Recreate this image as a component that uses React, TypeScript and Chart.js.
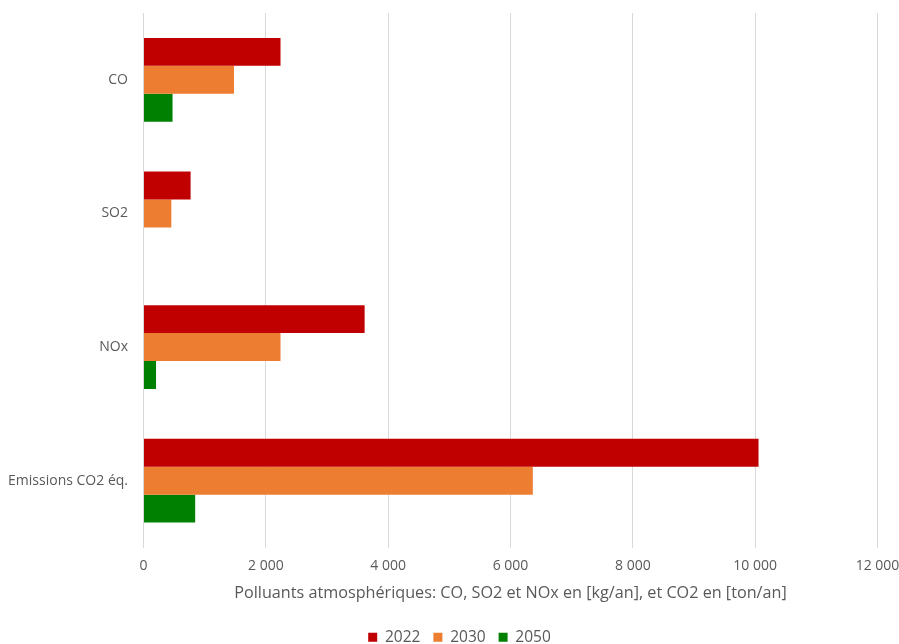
import React, { useEffect, useRef } from "react";
import { Chart, registerables } from "chart.js";

Chart.register(...registerables);

const categories = ["CO", "SO2", "NOx", "Emissions CO2 éq."];
const seriesNames = ["2022", "2030", "2050"];
const values2022 = [2240, 770, 3615, 10055];
const values2030 = [1480, 455, 2240, 6365];
const values2050 = [475, 0, 205, 845];
const xTickLabels = ["0", "2 000", "4 000", "6 000", "8 000", "10 000", "12 000"];
const axisTitle = "Polluants atmosphériques: CO, SO2 et NOx en [kg/an], et CO2 en [ton/an]";

const colors = ["#C00000", "#ED7D31", "#008000"];
const FONT = "'Open Sans', 'DejaVu Sans', sans-serif";
const TEXT = "#595959";

const legendShift = {
  id: "legendShift",
  afterLayout(chart: any) {
    const lg = chart.legend;
    if (lg) {
      lg.left = 20;
      lg.right = 899;
    }
  },
};

export default function App() {
  const ref = useRef<HTMLCanvasElement | null>(null);

  useEffect(() => {
    if (!ref.current) return;
    const series = [values2022, values2030, values2050];
    const chart = new Chart(ref.current, {
      type: "bar",
      data: {
        labels: categories,
        datasets: series.map((vals, i) => ({
          label: seriesNames[i],
          data: vals,
          backgroundColor: colors[i],
          borderWidth: 0,
          barPercentage: 1,
          categoryPercentage: 0.627,
        })),
      },
      plugins: [legendShift],
      options: {
        indexAxis: "y",
        animation: false,
        responsive: false,
        maintainAspectRatio: false,
        layout: { padding: { top: 13, right: 21.5, bottom: -11, left: 0 } },
        plugins: {
          tooltip: { enabled: false },
          legend: {
            position: "bottom",
            labels: {
              boxWidth: 9,
              boxHeight: 9,
              color: TEXT,
              font: { family: FONT, size: 15.5 },
              padding: 13,
            },
          },
        },
        scales: {
          x: {
            min: 0,
            max: 12000,
            ticks: {
              stepSize: 2000,
              color: TEXT,
              font: { family: FONT, size: 14 },
              padding: 10,
              maxRotation: 0,
              callback: (_v: any, i: number) => xTickLabels[i],
            },
            grid: { color: "#D9D9D9", drawTicks: false, lineWidth: 1 },
            border: { display: false },
            title: {
              display: true,
              text: axisTitle,
              color: TEXT,
              font: { family: FONT, size: 16.2 },
              padding: { top: 9.6, bottom: 13.4 },
            },
            afterFit: (scale: any) => {
              scale.paddingLeft = 0;
              scale.paddingRight = 0;
              scale.height = 69;
            },
          },
          y: {
            ticks: {
              color: TEXT,
              font: { family: FONT, size: 14 },
              padding: 15.5,
            },
            grid: { display: false, drawTicks: false },
            border: { display: true, color: "#D9D9D9" },
            afterFit: (scale: any) => {
              scale.width = 143.5;
              scale.paddingTop = 0;
              scale.paddingBottom = 0;
            },
          },
        },
      },
    });
    return () => chart.destroy();
  }, []);

  return (
    <div style={{ position: "fixed", left: 0, top: 0, width: 899, height: 644, background: "#fff" }}>
      <canvas ref={ref} width={899} height={644} style={{ width: 899, height: 644 }} />
    </div>
  );
}
